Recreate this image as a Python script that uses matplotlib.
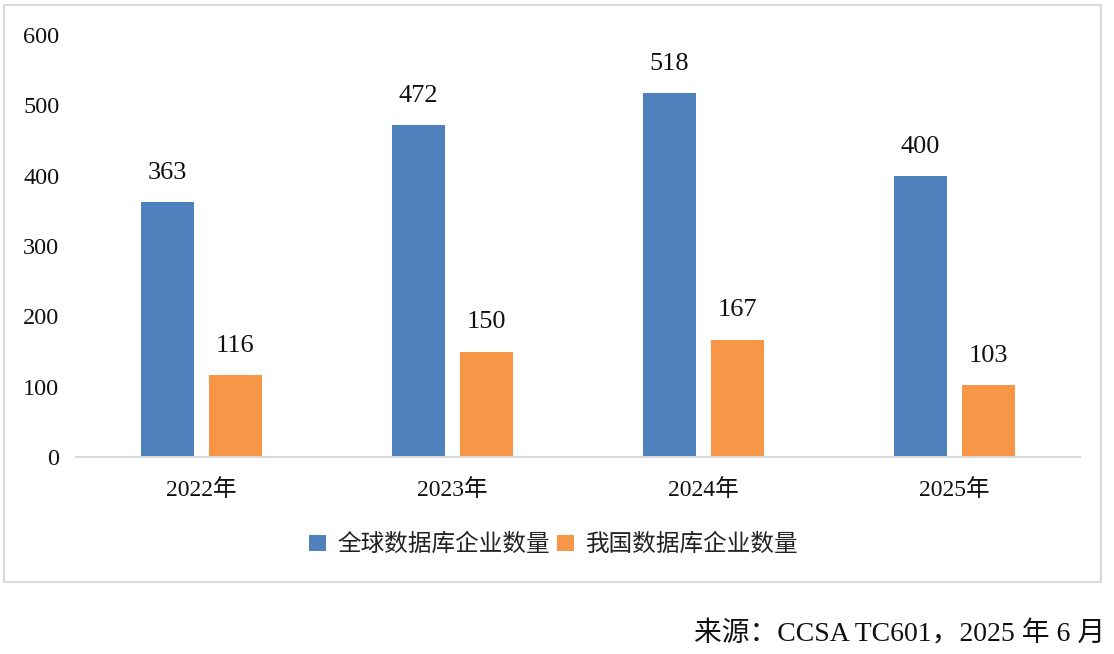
import matplotlib.pyplot as plt
import matplotlib.patches as mpatches
import numpy as np

years = ['2022年', '2023年', '2024年', '2025年']
global_counts = [363, 472, 518, 400]
china_counts = [116, 150, 167, 103]
series_names = ['全球数据库企业数量', '我国数据库企业数量']
yticks = [0, 100, 200, 300, 400, 500, 600]
source_text = '来源：CCSA TC601，2025 年 6 月'

plt.rcParams['font.family'] = ['Liberation Serif', 'Noto Sans CJK SC', 'DejaVu Sans']

blue = '#4F81BD'
orange = '#F79646'

fig = plt.figure(figsize=(11.14, 6.54), dpi=100)
ax = fig.add_axes([0.0682, 0.3012, 0.9013, 0.6453])

x = np.arange(len(years))
w = 0.211
off = 0.135
b1 = ax.bar(x - off, global_counts, w, color=blue, label=series_names[0])
b2 = ax.bar(x + off, china_counts, w, color=orange, label=series_names[1])

for bars in (b1, b2):
    for r in bars:
        ax.annotate(f'{int(r.get_height())}',
                    (r.get_x() + r.get_width() / 2, r.get_height()),
                    xytext=(0, 13), textcoords='offset points',
                    ha='center', va='bottom', fontsize=19, color='#111111')

ax.set_xlim(-0.5, len(years) - 0.5)
ax.set_ylim(0, 600)
ax.set_yticks(yticks)
ax.set_yticklabels([str(v) for v in yticks], fontsize=17.5)
ax.set_xticks(x)
ax.set_xticklabels(years, fontsize=17)
ax.tick_params(axis='both', length=0, colors='#111111')
ax.tick_params(axis='y', pad=12)
ax.tick_params(axis='x', pad=16)
for s in ('top', 'right', 'left'):
    ax.spines[s].set_visible(False)
ax.spines['bottom'].set_color('#d9d9d9')
ax.spines['bottom'].set_linewidth(1.5)

leg = fig.legend(handles=[b1, b2], loc='center', bbox_to_anchor=(0.497, 0.167),
                 ncol=2, frameon=False, handlelength=0.7,
                 handleheight=0.7, handletextpad=0.5, columnspacing=0.3,
                 prop={'family': ['Noto Sans CJK SC'], 'size': 17})
for t in leg.get_texts():
    t.set_color('#222222')

border = mpatches.Rectangle((0.004, 0.11), 0.984, 0.882, transform=fig.transFigure,
                            fill=False, edgecolor='#d9d9d9', linewidth=1.5)
fig.patches.append(border)

fig.text(0.992, 0.03, source_text, ha='right', va='center', fontsize=20,
         color='#111111')

fig.savefig('out.png', dpi=100)
